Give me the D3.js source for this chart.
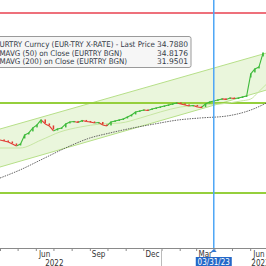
<!DOCTYPE html>
<html lang="en">
<head>
  <meta charset="UTF-8">
  <title>EURTRY Curncy</title>
  <script src="https://d3js.org/d3.v7.min.js"></script>
  <style>
    body { margin: 0; background: #fff; }
    svg { display: block; }
  </style>
</head>
<body>
  <script>
    // 1. Data
    const priceStart = new Date(2022, 3, 1);          // weekly closes from here
    const closes = [
      16.00, 15.86, 15.72, 15.45, 15.17, 15.45, 16.69, 16.97, 17.66, 18.07,
      18.76, 18.21, 17.93, 17.24, 17.52, 17.66, 18.21, 18.48, 18.55, 18.41,
      18.69, 18.55, 18.48, 18.34, 18.41, 18.07, 17.93, 18.48, 18.62, 18.76,
      18.90, 19.17, 19.45, 19.86, 20.00, 20.14, 20.07, 20.28, 20.41, 20.55,
      20.69, 20.83, 20.97, 21.10, 20.97, 20.83, 20.69, 20.76, 20.55, 20.48,
      20.97, 21.24, 21.38, 21.52, 21.66, 21.59, 21.79, 21.72, 21.79, 21.93,
      22.07, 25.10, 25.79, 26.07, 28.00
    ];

    const ma50Dates = ["2022-04-01", "2022-05-05", "2022-06-10", "2022-07-12", "2022-08-16",
      "2022-09-19", "2022-10-23", "2022-11-26", "2022-12-30", "2023-02-02", "2023-03-08",
      "2023-04-11", "2023-05-16", "2023-06-02", "2023-06-15", "2023-06-29"];
    const ma50 = [14.89, 14.89, 15.99, 17.10, 17.79, 18.20, 18.34, 19.03, 19.86, 20.54,
      20.82, 20.96, 21.37, 21.65, 22.61, 23.72];

    const ma200Dates = ["2022-04-01", "2022-05-05", "2022-06-16", "2022-07-29", "2022-09-01",
      "2022-10-05", "2022-11-13", "2022-12-20", "2023-01-29", "2023-03-08", "2023-04-22",
      "2023-06-02", "2023-06-29"];
    const ma200 = [10.75, 11.86, 13.51, 15.17, 16.27, 16.96, 17.65, 18.20, 18.75, 19.03,
      19.30, 20.13, 21.10];

    // trend channel (start / end)
    const channelDates = ["2022-04-01", "2023-06-29"];
    const channelUpper = [17.51, 27.99];
    const channelLower = [12.27, 22.89];

    const redLevels = [33.51];
    const greenLevels = [21.10, 8.68];
    const markerDate = "2023-03-31";
    const markerLabel = "03/31/23";

    const quarterLabels = [
      { month: "2022-06-01", label: "Jun" },
      { month: "2022-09-01", label: "Sep" },
      { month: "2022-12-01", label: "Dec" },
      { month: "2023-03-01", label: "Mar" },
      { month: "2023-06-01", label: "Jun" }
    ];
    const yearLabels = [
      { label: "2022", from: "2022-01-01", to: "2023-01-01" },
      { label: "2023", from: "2023-01-01", to: "2023-12-04" }
    ];

    const legendRows = [
      { name: "EURTRY Curncy (EUR-TRY X-RATE) - Last Price", value: "34.7880", end: 155 },
      { name: "SMAVG (50)  on Close (EURTRY BGN)", value: "34.8176", end: 122 },
      { name: "SMAVG (200)  on Close (EURTRY BGN)", value: "31.9501", end: 127 }
    ];

    // 2. SVG Canvas
    const width = 266, height = 266;
    const axisY = 248;
    const svg = d3.select("body").append("svg")
      .attr("width", width)
      .attr("height", height)
      .style("font-family", "'DejaVu Sans Condensed', 'DejaVu Sans', sans-serif");

    // 3. Scales
    const parse = d3.timeParse("%Y-%m-%d");
    const x = d3.scaleTime()
      .domain([new Date(2022, 3, 1), new Date(2023, 6, 1)])
      .range([0, 267.8]);
    const y = d3.scaleLinear()
      .domain([1.1, 35.3])
      .range([axisY, 0]);

    const prices = closes.map((c, i) => ({ date: d3.timeDay.offset(priceStart, 7 * i), close: c }));

    // 4. Channel
    const chan = channelDates.map((d, i) => ({ date: parse(d), hi: channelUpper[i], lo: channelLower[i] }));
    svg.append("path")
      .datum(chan)
      .attr("fill", "#eaf6dc")
      .attr("d", d3.area().x(d => x(d.date)).y0(d => y(d.lo)).y1(d => y(d.hi)));
    ["hi", "lo"].forEach(k => {
      svg.append("path")
        .datum(chan)
        .attr("fill", "none")
        .attr("stroke", "#b6df88")
        .attr("stroke-width", 1)
        .attr("d", d3.line().x(d => x(d.date)).y(d => y(d[k])));
    });

    // 5. Level lines
    svg.selectAll(".red").data(redLevels).join("line")
      .attr("x1", 0).attr("x2", width)
      .attr("y1", d => y(d)).attr("y2", d => y(d))
      .attr("stroke", "#e8414f").attr("stroke-width", 1.5);
    svg.selectAll(".green").data(greenLevels).join("line")
      .attr("x1", 0).attr("x2", width)
      .attr("y1", d => y(d)).attr("y2", d => y(d))
      .attr("stroke", "#95cf3c").attr("stroke-width", 2);

    // 6. Moving averages
    svg.append("path")
      .datum(ma200Dates.map((d, i) => ({ date: parse(d), v: ma200[i] })))
      .attr("fill", "none")
      .attr("stroke", "#555")
      .attr("stroke-width", 0.9)
      .attr("stroke-dasharray", "1.5,1")
      .attr("d", d3.line().curve(d3.curveMonotoneX).x(d => x(d.date)).y(d => y(d.v)));

    svg.append("path")
      .datum(ma50Dates.map((d, i) => ({ date: parse(d), v: ma50[i] })))
      .attr("fill", "none")
      .attr("stroke", "#c7e6a3")
      .attr("stroke-width", 1)
      .attr("d", d3.line().curve(d3.curveMonotoneX).x(d => x(d.date)).y(d => y(d.v)));

    // 7. Price (coloured by direction)
    const up = "#3dba3a", down = "#e23a32";
    const segs = d3.pairs(prices);
    svg.selectAll(".seg").data(segs).join("line")
      .attr("x1", d => x(d[0].date)).attr("y1", d => y(d[0].close))
      .attr("x2", d => x(d[1].date)).attr("y2", d => y(d[1].close))
      .attr("stroke", d => d[1].close >= d[0].close ? up : down)
      .attr("stroke-width", 1.1);
    svg.selectAll(".body").data(segs).join("rect")
      .attr("x", d => x(d[1].date) - 0.75)
      .attr("y", d => Math.min(y(d[0].close), y(d[1].close)) - 0.5)
      .attr("width", 1.5)
      .attr("height", d => Math.max(1.5, Math.min(4, Math.abs(y(d[0].close) - y(d[1].close)))))
      .attr("fill", d => d[1].close >= d[0].close ? up : down);

    // 8. Marker line
    const mx = x(parse(markerDate));
    svg.append("line")
      .attr("x1", mx).attr("x2", mx).attr("y1", 0).attr("y2", axisY)
      .attr("stroke", "#4ea6f5").attr("stroke-width", 1.5);

    // 9. Axis
    const axis = svg.append("g")
      .attr("transform", `translate(0,${axisY})`)
      .call(d3.axisBottom(x).ticks(d3.timeMonth.every(1)).tickFormat("").tickSize(3).tickSizeOuter(0));
    axis.select(".domain").attr("stroke", "#8a8a8a");
    axis.selectAll(".tick line").attr("stroke", "#8a8a8a");

    svg.selectAll(".qlab").data(quarterLabels).join("text")
      .attr("x", d => { const m = parse(d.month); return (x(m) + x(d3.timeMonth.offset(m, 1))) / 2; })
      .attr("y", 257)
      .attr("text-anchor", "middle")
      .attr("font-size", 8)
      .attr("fill", "#333")
      .text(d => d.label);

    svg.selectAll(".ylab").data(yearLabels).join("text")
      .attr("x", d => (x(parse(d.from)) + x(parse(d.to))) / 2)
      .attr("y", 265.5)
      .attr("text-anchor", "middle")
      .attr("font-size", 8)
      .attr("fill", "#333")
      .text(d => d.label);

    const yb = x(parse(yearLabels[1].from));
    svg.append("line")
      .attr("x1", yb).attr("x2", yb).attr("y1", axisY + 2).attr("y2", height)
      .attr("stroke", "#bbb");

    // date flag
    svg.append("path")
      .attr("d", `M${mx - 3},${axisY + 4}L${mx},${axisY + 1}L${mx + 3},${axisY + 4}Z`)
      .attr("fill", "#2f78d6");
    svg.append("rect")
      .attr("x", mx - 18).attr("y", 257)
      .attr("width", 36).attr("height", 9.5)
      .attr("fill", "#2468c8");
    svg.append("text")
      .attr("x", mx).attr("y", 265)
      .attr("text-anchor", "middle")
      .attr("font-size", 8)
      .attr("fill", "#fff")
      .text(markerLabel);

    // 10. Legend
    const lg = svg.append("g");
    lg.append("rect")
      .attr("x", -3).attr("y", 36.5)
      .attr("width", 194).attr("height", 31)
      .attr("rx", 2)
      .attr("fill", "#f6f6f6")
      .attr("stroke", "#9a9a9a");
    legendRows.forEach((r, i) => {
      const by = 47.3 + i * 8.4;
      lg.append("text")
        .attr("x", -5).attr("y", by)
        .attr("font-size", 7.8)
        .attr("fill", "#333a46")
        .attr("textLength", r.end + 5)
        .attr("lengthAdjust", "spacingAndGlyphs")
        .text(r.name);
      lg.append("text")
        .attr("x", 157).attr("y", by)
        .attr("font-size", 7.8)
        .attr("fill", "#333a46")
        .attr("textLength", 31)
        .attr("lengthAdjust", "spacingAndGlyphs")
        .text(r.value);
    });
  </script>
</body>
</html>
